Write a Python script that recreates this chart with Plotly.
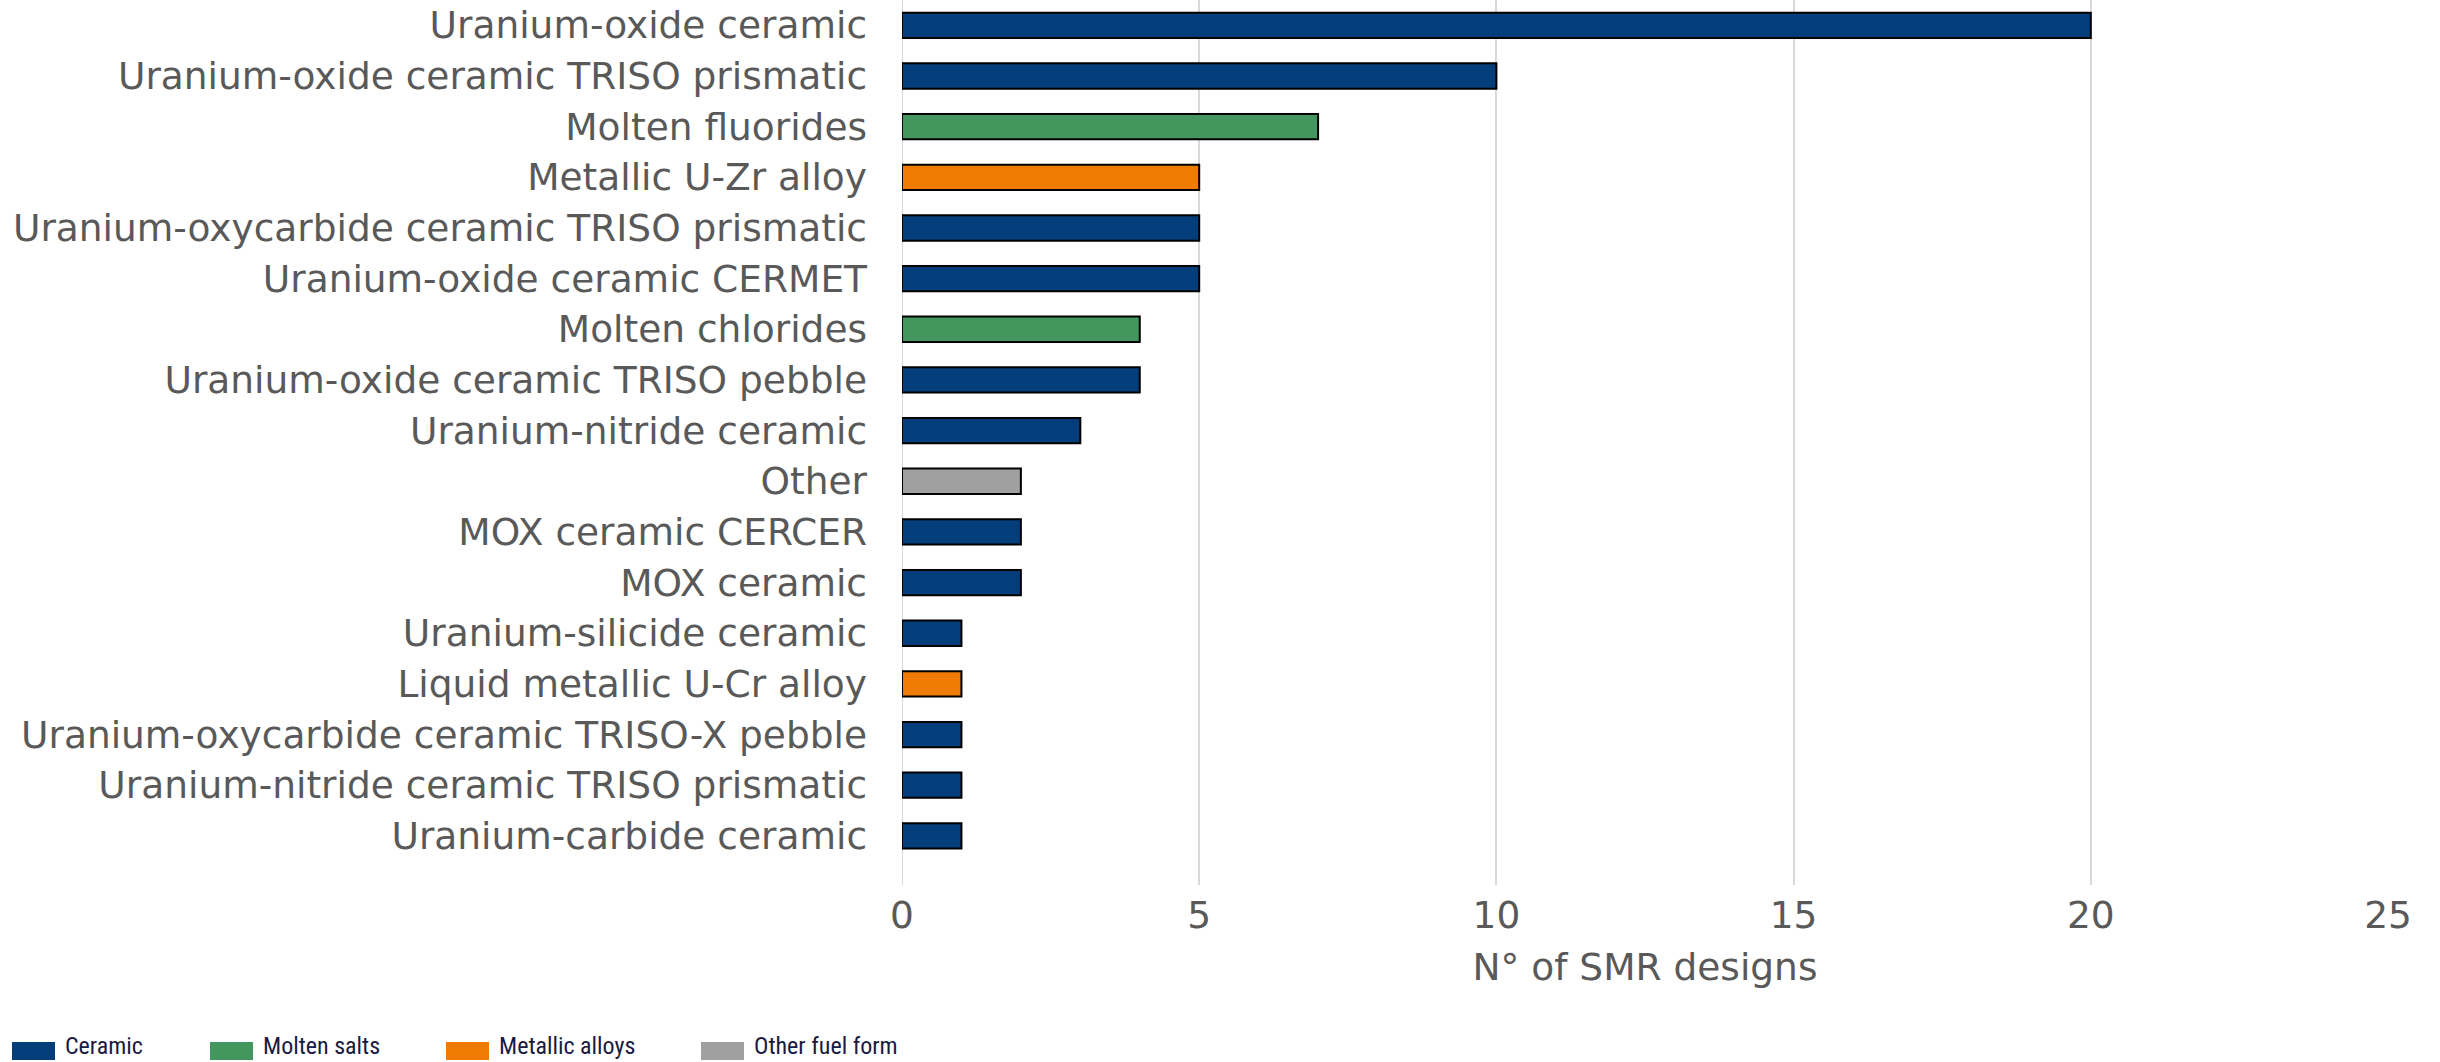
import plotly.graph_objects as go

# Fuel types of SMR designs, top to bottom
fuel_types = [
    "Uranium-oxide ceramic",
    "Uranium-oxide ceramic TRISO prismatic",
    "Molten fluorides",
    "Metallic U-Zr alloy",
    "Uranium-oxycarbide ceramic TRISO prismatic",
    "Uranium-oxide ceramic CERMET",
    "Molten chlorides",
    "Uranium-oxide ceramic TRISO pebble",
    "Uranium-nitride ceramic",
    "Other",
    "MOX ceramic CERCER",
    "MOX ceramic",
    "Uranium-silicide ceramic",
    "Liquid metallic U-Cr alloy",
    "Uranium-oxycarbide ceramic TRISO-X pebble",
    "Uranium-nitride ceramic TRISO prismatic",
    "Uranium-carbide ceramic",
]
design_counts = [20, 10, 7, 5, 5, 5, 4, 4, 3, 2, 2, 2, 1, 1, 1, 1, 1]
fuel_groups = [
    "Ceramic", "Ceramic", "Molten salts", "Metallic alloys", "Ceramic",
    "Ceramic", "Molten salts", "Ceramic", "Ceramic", "Other fuel form",
    "Ceramic", "Ceramic", "Ceramic", "Metallic alloys", "Ceramic",
    "Ceramic", "Ceramic",
]
group_names = ["Ceramic", "Molten salts", "Metallic alloys", "Other fuel form"]
group_colors = {
    "Ceramic": "#033d7a",
    "Molten salts": "#43965d",
    "Metallic alloys": "#ef7b05",
    "Other fuel form": "#a0a0a0",
}
x_ticks = [0, 5, 10, 15, 20, 25]

W, H = 2440, 1062
M_L, M_R, M_T, M_B = 902, 52, 0, 177
FONT = "DejaVu Sans, Verdana, sans-serif"
FS = 37.5
TXT = "#595959"

fig = go.Figure(
    go.Bar(
        x=design_counts,
        y=fuel_types,
        orientation="h",
        marker=dict(
            color=[group_colors[g] for g in fuel_groups],
            line=dict(color="#000000", width=2),
        ),
        width=0.5,
        showlegend=False,
        hoverinfo="x+y",
    )
)

fig.update_layout(
    width=W,
    height=H,
    margin=dict(l=M_L, r=M_R, t=M_T, b=M_B, pad=0),
    paper_bgcolor="white",
    plot_bgcolor="white",
    font=dict(family=FONT, color=TXT, size=FS),
    bargap=0.5,
)

fig.update_xaxes(
    range=[0, 25],
    tickvals=x_ticks,
    showgrid=True,
    gridcolor="#d9d9d9",
    gridwidth=2,
    zeroline=False,
    showline=False,
    ticks="",
    ticklabelstandoff=4,
    tickfont=dict(size=FS, color=TXT),
    title=dict(text="N° of SMR designs", font=dict(size=FS, color=TXT), standoff=18),
)
fig.update_yaxes(
    categoryorder="array",
    categoryarray=fuel_types,
    range=[len(fuel_types) - 0.5 + 0.47, -0.5],
    showgrid=False,
    zeroline=False,
    showline=False,
    ticks="",
    ticklabelstandoff=34,
    tickfont=dict(size=FS, color=TXT),
)

# Vertical axis line at zero, spanning the full plot height
fig.add_shape(
    type="line", xref="x", yref="paper", x0=0, x1=0, y0=0, y1=1,
    line=dict(color="#d9d9d9", width=2), layer="below",
)

# Legend drawn below the chart with swatches and labels
legend_x = [12, 210, 446, 701]
for name, lx in zip(group_names, legend_x):
    fig.add_shape(
        type="rect", xref="paper", yref="paper",
        x0=(lx - M_L) / (W - M_L - M_R),
        x1=(lx + 43 - M_L) / (W - M_L - M_R),
        y0=(H - 1060 - M_B) / (H - M_T - M_B),
        y1=(H - 1042 - M_B) / (H - M_T - M_B),
        fillcolor=group_colors[name],
        line=dict(width=0),
    )
    fig.add_annotation(
        xref="paper", yref="paper",
        x=(lx + 52 - M_L) / (W - M_L - M_R),
        y=(H - 1046 - M_B) / (H - M_T - M_B),
        text=name, showarrow=False, xanchor="left", yanchor="middle",
        borderpad=0,
        font=dict(family="Liberation Sans Narrow, Roboto Condensed, Liberation Sans, sans-serif",
                  size=24, color="#1a1a40"),
    )

fig.write_html("out.html")
